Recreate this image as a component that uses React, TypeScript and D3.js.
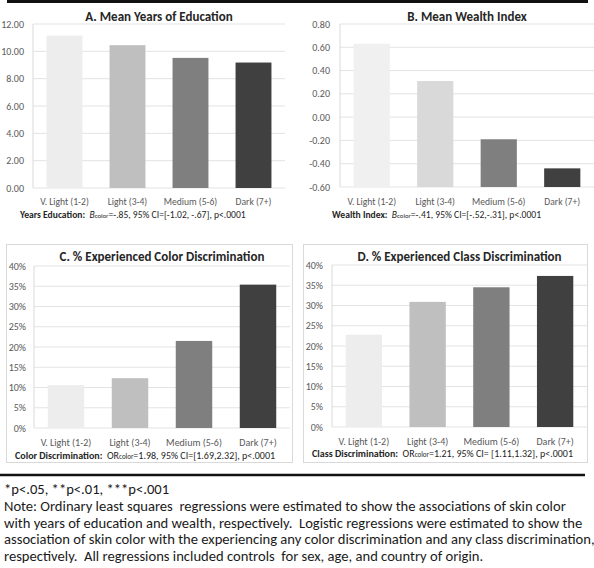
import React from 'react';
import * as d3 from 'd3';

const categories = ['V. Light (1-2)', 'Light (3-4)', 'Medium (5-6)', 'Dark (7+)'];
const barColors = ['#ededed', '#bfbfbf', '#7f7f7f', '#404040'];
const wealthColors = ['#f0f0f0', '#d9d9d9', '#7f7f7f', '#404040'];

const educationYears = [11.15, 10.45, 9.52, 9.18];
const wealthIndex = [0.63, 0.31, -0.19, -0.44];
const colorDiscrimination = [0.106, 0.123, 0.215, 0.354];
const classDiscrimination = [0.228, 0.309, 0.345, 0.373];

const educationTicks = [0, 2, 4, 6, 8, 10, 12];
const wealthTicks = [-0.6, -0.4, -0.2, 0, 0.2, 0.4, 0.6, 0.8];
const percentTicks = [0, 0.05, 0.1, 0.15, 0.2, 0.25, 0.3, 0.35, 0.4];

const noteLines = [
  '*p<.05, **p<.01, ***p<.001',
  'Note: Ordinary least squares  regressions were estimated to show the associations of skin color',
  'with years of education and wealth, respectively.  Logistic regressions were estimated to show the',
  'association of skin color with the experiencing any color discrimination and any class discrimination,',
  'respectively.  All regressions included controls  for sex, age, and country of origin.',
];

const FONT = 'Carlito, Lato, sans-serif';

interface Stat {
  label: string;
  coef: string;
  italic: boolean;
  rest: string;
}

interface PanelProps {
  title: string;
  values: number[];
  colors: string[];
  ticks: number[];
  format: (v: number) => string;
  xRange: [number, number];
  yRange: [number, number];
  labelX: number;
  titleY: number;
  catY: number;
  statX: number;
  statY: number;
  stat: Stat;
  textSize: number;
  box?: [number, number, number, number];
}

const Panel: React.FC<PanelProps> = ({
  title, values, colors, ticks, format, xRange, yRange, labelX, titleY, catY, statX, statY, stat, textSize, box
}) => {
  const x = d3.scaleBand<string>()
    .domain(categories)
    .range(xRange)
    .paddingInner(0.43)
    .paddingOuter(0.215);
  const y = d3.scaleLinear()
    .domain(d3.extent(ticks) as [number, number])
    .range(yRange);
  const base = ticks[0];
  const mid = (xRange[0] + xRange[1]) / 2;

  return (
    <g>
      {box && (
        <rect x={box[0]} y={box[1]} width={box[2] - box[0]} height={box[3] - box[1]}
          fill="none" stroke="#d9d9d9" strokeWidth={1} />
      )}
      {ticks.map(t => (
        <g key={t}>
          <line x1={xRange[0]} x2={xRange[1]} y1={y(t)} y2={y(t)} stroke="#e3e3e3" strokeWidth={1} />
          <text x={labelX} y={y(t)} dy="0.35em" textAnchor="end" fontSize={10} fill="#595959">
            {format(t)}
          </text>
        </g>
      ))}
      <line x1={xRange[0]} x2={xRange[0]} y1={yRange[0]} y2={yRange[1]} stroke="#d9d9d9" />
      {values.map((v, i) => (
        <rect key={categories[i]}
          x={x(categories[i])} width={x.bandwidth()}
          y={y(v)} height={y(base) - y(v)}
          fill={colors[i]} />
      ))}
      {categories.map(c => (
        <text key={c} x={(x(c) ?? 0) + x.bandwidth() / 2} y={catY} textAnchor="middle"
          fontSize={textSize} fill="#595959">{c}</text>
      ))}
      <text x={mid} y={titleY} textAnchor="middle" fontSize={13} fontWeight="bold" fill="#262626">
        {title}
      </text>
      <text x={statX} y={statY} fontSize={textSize} fill="#262626">
        <tspan fontWeight="bold">{stat.label}</tspan>
        <tspan>{'\u00a0\u00a0'}</tspan>
        <tspan fontStyle={stat.italic ? 'italic' : 'normal'}>{stat.coef}</tspan>
        <tspan fontSize={textSize * 0.7}>color</tspan>
        <tspan>{stat.rest}</tspan>
      </text>
    </g>
  );
};

export default function App() {
  const fixed = (v: number) => v.toFixed(2);
  const pct = d3.format('.0%');
  return (
    <svg width={594} height={568} style={{ position: 'absolute', left: 0, top: 0, background: '#fff' }}
      fontFamily={FONT}>
      <rect x={0} y={0} width={594} height={568} fill="#fff" />
      <line x1={7} x2={588} y1={1.5} y2={1.5} stroke="#111" strokeWidth={3} />

      <Panel title="A. Mean Years of Education" values={educationYears} colors={barColors} ticks={educationTicks}
        format={fixed} xRange={[33, 285]} yRange={[188, 24]} labelX={24}
        titleY={21} catY={205} statX={20} statY={217.5} textSize={9.6}
        stat={{ label: 'Years Education:', coef: 'B', italic: true, rest: '=-.85, 95% CI=[-1.02, -.67], p<.0001' }} />

      <Panel title="B. Mean Wealth Index" values={wealthIndex} colors={wealthColors} ticks={wealthTicks}
        format={fixed} xRange={[340, 594]} yRange={[187, 24]} labelX={330}
        titleY={21} catY={205} statX={332} statY={217.5} textSize={9.6}
        stat={{ label: 'Wealth Index:', coef: 'B', italic: true, rest: '=-.41, 95% CI=[-.52,-.31], p<.0001' }} />

      <Panel title="C. % Experienced Color Discrimination" values={colorDiscrimination} colors={barColors} ticks={percentTicks}
        format={pct} xRange={[34, 290]} yRange={[428, 266]} labelX={26}
        titleY={261} catY={446} statX={15} statY={459} textSize={10} box={[6.5, 244.5, 292.5, 462.5]}
        stat={{ label: 'Color Discrimination:', coef: 'OR', italic: false, rest: '=1.98, 95% CI=[1.69,2.32], p<.0001' }} />

      <Panel title="D. % Experienced Class Discrimination" values={classDiscrimination} colors={barColors} ticks={percentTicks}
        format={pct} xRange={[332, 587]} yRange={[427, 265]} labelX={323}
        titleY={261} catY={445} statX={312} statY={457} textSize={10} box={[303.5, 244.5, 587.5, 462.5]}
        stat={{ label: 'Class Discrimination:', coef: 'OR', italic: false, rest: '=1.21, 95% CI= [1.11,1.32], p<.0001' }} />

      <line x1={0} x2={585} y1={475} y2={475} stroke="#111" strokeWidth={2.5} />
      {noteLines.map((line, i) => (
        <text key={i} x={4} y={494 + i * 16.8} fontSize={14.6} fill="#1a1a1a" style={{ whiteSpace: 'pre' }}>
          {line}
        </text>
      ))}
    </svg>
  );
}
